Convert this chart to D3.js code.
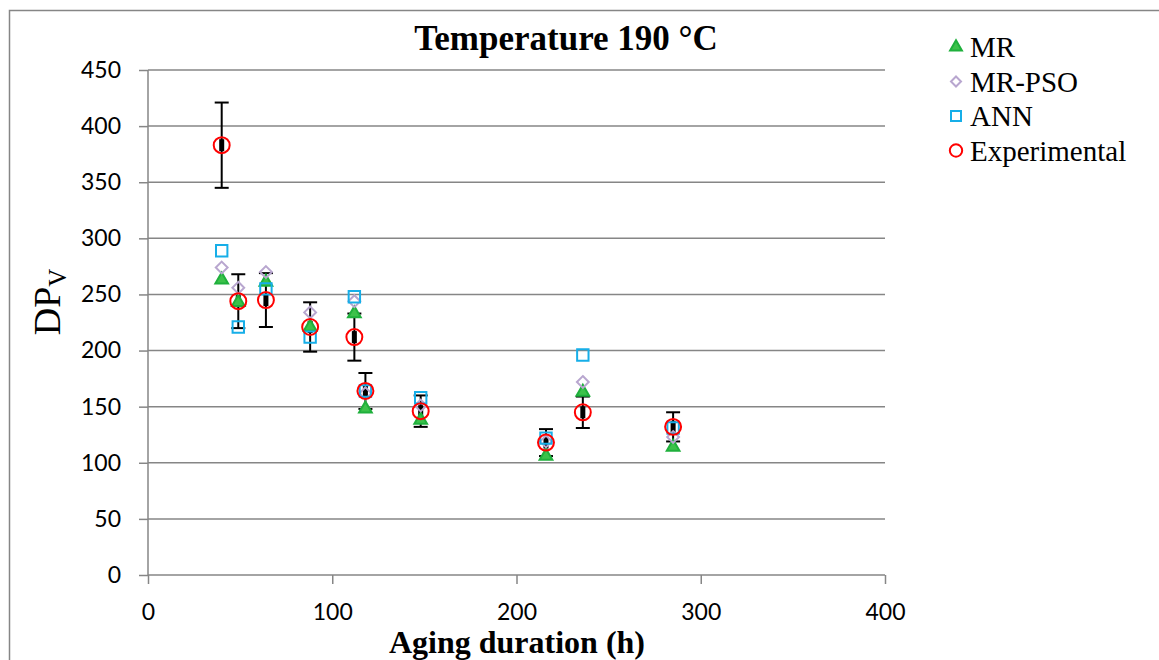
<!DOCTYPE html>
<html lang="en">
<head>
<meta charset="utf-8">
<title>Temperature 190 °C</title>
<script src="https://d3js.org/d3.v7.min.js"></script>
<style>
  body { margin: 0; background: #fff; }
</style>
</head>
<body>
<script>
// aging duration (h)
var hours = [40, 49, 64, 88, 112, 118, 148, 216, 236, 285];
var experimental = [383, 244, 245, 221, 212, 164, 146, 118, 145, 132];
var expError = [38, 24, 24, 22, 21, 16, 14, 12, 14, 13];
var mr = [263, 243, 261, 221, 233, 148, 138, 106, 163, 114];
var mrPso = [274, 256, 270, 234, 244, 162, 151, 119, 172, 123];
var ann = [289, 221, 255, 212, 248, 164, 158, 122, 196, 131];
var xTicks = [0, 100, 200, 300, 400];
var yTicks = [0, 50, 100, 150, 200, 250, 300, 350, 400, 450];

var width = 1159, height = 660;
var svg = d3.select("body").append("svg")
  .attr("width", width).attr("height", height);

// outer frame
svg.append("rect").attr("x", 9.5).attr("y", 10.5)
  .attr("width", 1160).attr("height", 700)
  .attr("fill", "none").attr("stroke", "#868686").attr("stroke-width", 1.5);

var x = d3.scaleLinear().domain([0, 400]).range([148, 885]);
var y = d3.scaleLinear().domain([0, 450]).range([575, 70]);

// gridlines
svg.selectAll(".grid").data(yTicks.slice(1)).enter().append("line")
  .attr("x1", 148).attr("x2", 885)
  .attr("y1", function(d) { return y(d); }).attr("y2", function(d) { return y(d); })
  .attr("stroke", "#868686").attr("stroke-width", 1.5);

// axes
var yAxis = svg.append("g").attr("transform", "translate(148,0)")
  .call(d3.axisLeft(y).tickValues(yTicks).tickSize(9).tickPadding(18));
var xAxis = svg.append("g").attr("transform", "translate(0,575)")
  .call(d3.axisBottom(x).tickValues(xTicks).tickSize(9).tickPadding(20));
[xAxis, yAxis].forEach(function(g) {
  g.selectAll("path, line").attr("stroke", "#868686").attr("stroke-width", 1.5);
  g.selectAll("text").attr("font-family", "Lato, 'Open Sans', sans-serif")
    .attr("font-size", 23).attr("fill", "#000");
});
xAxis.select(".domain").attr("d", "M148,0H885");
yAxis.select(".domain").attr("d", "M0,70V575");

// error bars
var eb = svg.append("g");
hours.forEach(function(h, i) {
  var cx = x(h), t = y(experimental[i] + expError[i]), b = y(experimental[i] - expError[i]);
  eb.append("line").attr("x1", cx).attr("x2", cx).attr("y1", t).attr("y2", b)
    .attr("stroke", "#000").attr("stroke-width", 2);
  [t, b].forEach(function(v) {
    eb.append("line").attr("x1", cx - 7).attr("x2", cx + 7).attr("y1", v).attr("y2", v)
      .attr("stroke", "#000").attr("stroke-width", 2);
  });
  eb.append("rect").attr("x", cx - 2.5).attr("y", y(experimental[i]) - 6)
    .attr("width", 5).attr("height", 12).attr("fill", "#000");
});

function drawSeries(vals, shape, color, fill, size) {
  svg.append("g").selectAll("path").data(vals).enter().append("path")
    .attr("transform", function(d, i) { return "translate(" + x(hours[i]) + "," + y(d) + ")"; })
    .attr("d", d3.symbol().type(shape).size(size))
    .attr("fill", fill).attr("stroke", color).attr("stroke-width", 2);
}
var diamond = { draw: function(ctx, s) { var r = Math.sqrt(s) / 2;
  ctx.moveTo(0, -r); ctx.lineTo(r, 0); ctx.lineTo(0, r); ctx.lineTo(-r, 0); ctx.closePath(); } };

drawSeries(mr, d3.symbolTriangle, "#1fb03c", "#3cc24a", 70);
drawSeries(mrPso, diamond, "#b8a6cf", "none", 140);
drawSeries(ann, d3.symbolSquare, "#16aee8", "none", 130);
drawSeries(experimental, d3.symbolCircle, "#ff0000", "none", 200);

// title and axis labels
svg.append("text").attr("x", 566).attr("y", 50).attr("text-anchor", "middle")
  .attr("font-family", "'Liberation Serif', serif").attr("font-weight", "bold")
  .attr("font-size", 35).text("Temperature 190 °C");
svg.append("text").attr("x", 517).attr("y", 653).attr("text-anchor", "middle")
  .attr("font-family", "'Liberation Serif', serif").attr("font-weight", "bold")
  .attr("font-size", 32).text("Aging duration (h)");
var yl = svg.append("text").attr("transform", "translate(60,302) rotate(-90)")
  .attr("text-anchor", "middle").attr("font-family", "'Liberation Serif', serif")
  .attr("font-size", 38);
yl.append("tspan").text("DP");
yl.append("tspan").attr("font-size", 25).attr("dy", 6).text("V");

// legend
var legendNames = ["MR", "MR-PSO", "ANN", "Experimental"];
var legendShapes = [
  [d3.symbolTriangle, "#1fb03c", "#3cc24a", 60],
  [diamond, "#b8a6cf", "none", 100],
  [d3.symbolSquare, "#16aee8", "none", 100],
  [d3.symbolCircle, "#ff0000", "none", 120]
];
var lg = svg.append("g").attr("transform", "translate(956,47)");
legendNames.forEach(function(n, i) {
  var s = legendShapes[i];
  lg.append("path").attr("transform", "translate(0," + (i * 34.5) + ")")
    .attr("d", d3.symbol().type(s[0]).size(s[3]))
    .attr("fill", s[2]).attr("stroke", s[1]).attr("stroke-width", 2);
  lg.append("text").attr("x", 14).attr("y", i * 34.5 + 10)
    .attr("font-family", "'Liberation Serif', serif").attr("font-size", 29).text(n);
});
</script>
</body>
</html>
